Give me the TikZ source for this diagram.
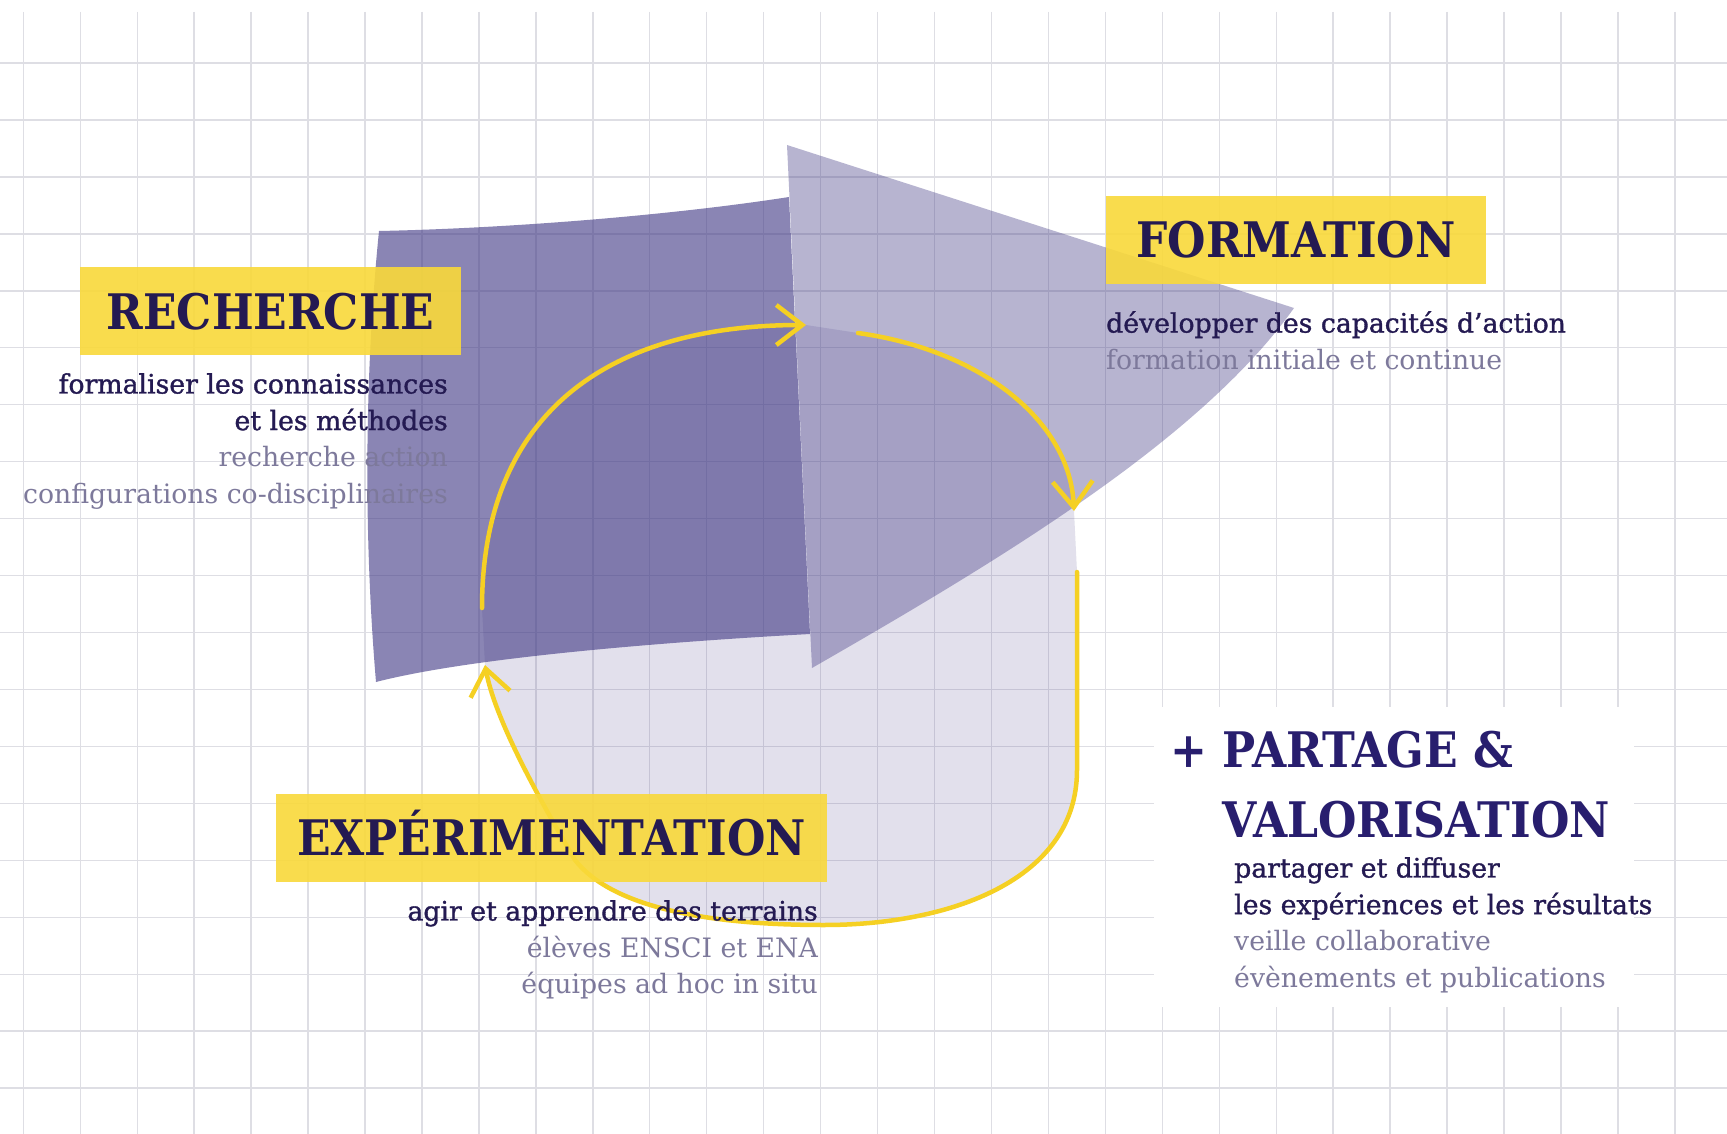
\documentclass[tikz,border=0pt]{standalone}
\usepackage{fontspec}
\usepackage{tikz}
\usetikzlibrary{arrows.meta}
\setmainfont{DejaVu Serif}
\newfontfamily\titlefont[FakeStretch=0.9]{DejaVu Serif Bold}
\newfontfamily\strongfont[FakeBold=1.2]{DejaVu Serif}
\definecolor{ink}{RGB}{36,26,82}
\definecolor{partink}{RGB}{40,30,110}
\definecolor{soft}{RGB}{125,121,155}
\definecolor{mauve}{RGB}{61,53,130}
\definecolor{jaune}{RGB}{249,217,58}
\definecolor{arrowyellow}{RGB}{245,208,35}
\definecolor{grille}{RGB}{222,222,228}
\newcommand\softline[1]{{\rmfamily\color{soft}#1}}

\begin{document}
\begin{tikzpicture}[x=1pt, y=-1pt,
    >={Straight Barb[length=26pt,width=40pt]},
    gridline/.style={color=grille, line width=1.4pt},
    titletext/.style={inner sep=0pt, text=ink, font=\titlefont\fontsize{49}{49}\selectfont},
    titlebox/.style={titletext, fill=jaune, fill opacity=0.9, text opacity=1, minimum height=88pt, text height=36pt, text depth=0pt},
    bodytext/.style={inner sep=0pt, text=ink, font=\strongfont\fontsize{26.7}{36.6}\selectfont},
    yarrow/.style={color=arrowyellow, line width=4.5pt, line cap=round}]
    \useasboundingbox (0,0) rectangle (1727,1134);
    \fill[white] (0,0) rectangle (1727,1134);
    \foreach \i in {0,...,29}
        \draw[gridline] ({23.3+56.95*\i},12) -- ({23.3+56.95*\i},1134);
    \foreach \j in {0,...,18}
        \draw[gridline] (0,{63+56.95*\j}) -- (1727,{63+56.95*\j});

    \fill[mauve, fill opacity=0.15] (482,608) .. controls (482,420) and (600,325) .. (806,325) -- (858,333) .. controls (980,350) and (1070,420) .. (1074,511) -- (1077,572) -- (1077,770) .. controls (1077,880) and (950,925) .. (824,925) .. controls (700,925) and (610,905) .. (575,860) .. controls (540,800) and (495,720) .. (485,665) -- cycle;
    \fill[mauve, fill opacity=0.6] (379,231) .. controls (520,228) and (680,214) .. (789,197) -- (810,634) .. controls (700,640) and (480,655) .. (376,682) .. controls (364,540) and (364,380) .. (379,231) -- cycle;
    \fill[mauve, fill opacity=0.37] (787,145) -- (1294,308) .. controls (1200,440) and (1000,560) .. (812,668) -- cycle;

    \fill[white] (1154,707) rectangle (1634,1007);

    \draw[yarrow, ->] (482,608) .. controls (482,420) and (600,325) .. (806,325);
    \draw[yarrow, ->] (858,333) .. controls (980,350) and (1070,420) .. (1074,511);
    \draw[yarrow, ->] (1077,572) -- (1077,770) .. controls (1077,880) and (950,925) .. (824,925) .. controls (700,925) and (610,905) .. (575,860) .. controls (540,800) and (495,720) .. (485,665);

    \node[titlebox, minimum width=381pt] (recherche) at (270.5,311) {RECHERCHE};
    \node[titlebox, minimum width=380pt] (formation) at (1296,240) {FORMATION};
    \node[titlebox, minimum width=551pt] (experimentation) at (551.5,837.5) {EXPÉRIMENTATION};

    \node[bodytext, anchor=north east, align=right] (rechercheinfo) at (448,373) {formaliser les connaissances\\et les méthodes\\\softline{recherche action}\\\softline{configurations co-disciplinaires}};
    \node[bodytext, anchor=north west, align=left] (formationinfo) at (1106,311) {développer des capacités d’action\\\softline{formation initiale et continue}};
    \node[bodytext, anchor=north east, align=right] (experimentationinfo) at (818,900) {agir et apprendre des terrains\\\softline{élèves ENSCI et ENA}\\\softline{équipes ad hoc in situ}};

    \node[titletext, text=partink, anchor=base east] (plus) at (1208,767) {+};
    \node[titletext, text=partink, anchor=base west] (partage) at (1222,767) {PARTAGE \&};
    \node[titletext, text=partink, anchor=base west] (valorisation) at (1222,837) {VALORISATION};
    \node[bodytext, anchor=north west, align=left] (partageinfo) at (1234,857) {partager et diffuser\\les expériences et les résultats\\\softline{veille collaborative}\\\softline{évènements et publications}};
\end{tikzpicture}
\end{document}
